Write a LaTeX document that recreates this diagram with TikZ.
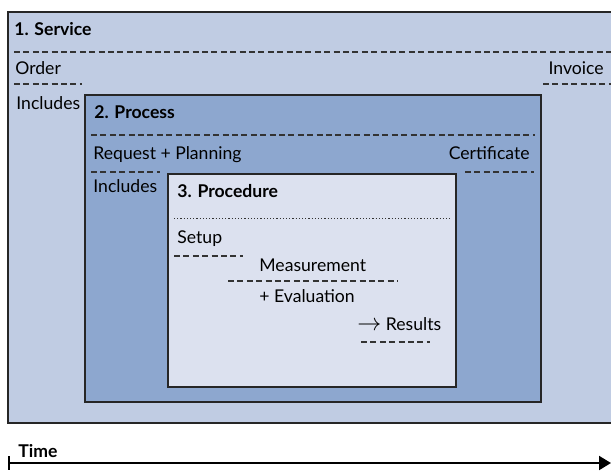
\documentclass[tikz,border=0pt]{standalone}
\usepackage{fontspec}
\setmainfont{Lato}
\usetikzlibrary{positioning, arrows.meta}

\definecolor{servicebg}{RGB}{192,204,227}
\definecolor{processbg}{RGB}{141,167,207}
\definecolor{procbg}{RGB}{220,225,239}

\tikzset{
  lbl/.style={inner sep=0pt, text height=1.6ex, text depth=.45ex, font=\fontsize{8.8}{11}\selectfont},
  ttl/.style={lbl, font=\fontsize{8.8}{11}\selectfont\bfseries},
  dashline/.style={line width=0.7pt, dash pattern=on 3pt off 1.7pt, black!80},
  boxline/.style={line width=0.7pt, draw=black!85}
}

\begin{document}
\begin{tikzpicture}[x=0.5pt, y=-0.5pt]
  \useasboundingbox (0,0) rectangle (611,473);

  %% 1. Service
  \filldraw [boxline, fill=servicebg] (8,12) rectangle (612,423);
  \node [ttl, anchor=west] (service) at (14,30) {1. Service};
  \draw [dashline] (14,52) -- (611,52);
  \node [lbl, anchor=west] (order) at (15,69) {Order};
  \draw [dashline] (14,84) -- (82,84);
  \node [lbl, anchor=east] (invoice) at (604,69) {Invoice};
  \draw [dashline] (543,84) -- (611,84);
  \node [lbl, anchor=west] (incl1) at (16,104) {Includes};

  %% 2. Process
  \filldraw [boxline, fill=processbg] (85,95) rectangle (541,402);
  \node [ttl, anchor=west] (process) at (94,113) {2. Process};
  \draw [dashline] (91,135) -- (535,135);
  \node [lbl, anchor=west] (request) at (93,154) {Request + Planning};
  \node [lbl, anchor=east] (certificate) at (530,154) {Certificate};
  \draw [dashline] (91,172) -- (160,172);
  \draw [dashline] (465,172) -- (534,172);
  \node [lbl, anchor=west] (incl2) at (93,187) {Includes};

  %% 3. Procedure
  \filldraw [boxline, fill=procbg] (168,174) rectangle (456,387);
  \node [ttl, anchor=west] (procedure) at (177,192) {3. Procedure};
  \draw [line width=0.5pt, dash pattern=on 0.6pt off 1pt, black!80] (174,218) -- (452,218);
  \node [lbl, anchor=west] (setup) at (177,238) {Setup};
  \draw [dashline] (174,256) -- (243,256);
  \node [lbl, anchor=west] (measure) at (259,266) {Measurement};
  \draw [dashline] (228,281) -- (398,281);
  \node [lbl, anchor=west] (evaluation) at (259,297) {+ Evaluation};
  \node [lbl, anchor=west] (results) at (357,325) {{\large$\rightarrow$} Results};
  \draw [dashline] (361,342) -- (430,342);

  %% Time axis
  \node [ttl, anchor=west] (time) at (18,452) {Time};
  \coordinate (t0) at (9,463);
  \coordinate (t1) at (611,463);
  \draw [line width=1pt, -{Triangle[length=6pt, width=7pt]}] (t0) -- (t1);
  \draw [line width=1pt] (9,456) -- (9,470);
\end{tikzpicture}
\end{document}
